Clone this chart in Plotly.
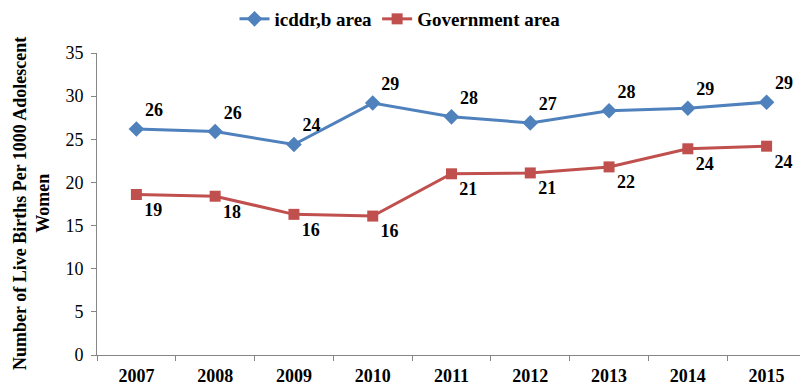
import plotly.graph_objects as go

years = ["2007", "2008", "2009", "2010", "2011", "2012", "2013", "2014", "2015"]
icddrb = [26.2, 25.9, 24.4, 29.2, 27.6, 26.9, 28.3, 28.6, 29.3]
government = [18.6, 18.4, 16.3, 16.1, 21.0, 21.1, 21.8, 23.9, 24.2]
y_ticks = [0, 5, 10, 15, 20, 25, 30, 35]

FONT = "Liberation Serif"
BLUE = "#4F81BD"
RED = "#C0504D"
AXIS = "#868686"
FS = 18

fig = go.Figure()
fig.add_trace(go.Scatter(
    x=years, y=icddrb, name="<b>icddr,b area</b>", mode="lines+markers+text",
    line=dict(color=BLUE, width=3),
    marker=dict(symbol="diamond", size=12, color=BLUE),
    texttemplate="<b>%{y:.0f}</b>", textposition="top right",
    textfont=dict(family=FONT, size=FS, color="black"),
    cliponaxis=False,
))
fig.add_trace(go.Scatter(
    x=years, y=government, name="<b>Government area</b>", mode="lines+markers+text",
    line=dict(color=RED, width=3),
    marker=dict(symbol="square", size=11, color=RED),
    texttemplate="<b>%{y:.0f}</b>", textposition="bottom right",
    textfont=dict(family=FONT, size=FS, color="black"),
    cliponaxis=False,
))

fig.update_layout(
    width=800, height=386,
    margin=dict(l=97, r=0, t=53, b=31),
    paper_bgcolor="white", plot_bgcolor="white",
    font=dict(family=FONT, size=FS, color="black"),
    showlegend=True,
    legend=dict(orientation="h", x=0.5, xanchor="center", y=1.0, yanchor="top",
                yref="container", xref="container",
                font=dict(family=FONT, size=19, color="black"),
                itemwidth=30, traceorder="normal"),
    xaxis=dict(type="category", range=[-0.5, 8.424], showgrid=False, automargin=False,
               showline=True, linecolor=AXIS, linewidth=1,
               ticks="outside", tickson="boundaries", ticklen=5, tickcolor=AXIS,
               ticklabelstandoff=4, tickprefix="<b>", ticksuffix="</b>",
               tickfont=dict(family=FONT, size=FS, color="black")),
    yaxis=dict(range=[0, 35], tickvals=y_ticks, showgrid=False, zeroline=False, automargin=False,
               showline=True, linecolor=AXIS, linewidth=1,
               ticks="outside", ticklen=5, tickcolor=AXIS,
               ticklabelstandoff=4, tickprefix="<b>", ticksuffix="</b>",
               tickfont=dict(family=FONT, size=FS, color="black")),
)

fig.add_annotation(
    text="<b>Number of Live Births Per 1000 Adolescent<br>Women</b>",
    textangle=-90, xref="paper", yref="paper", x=0, y=0.5,
    xanchor="center", yanchor="middle", xshift=-66, yshift=0,
    showarrow=False, font=dict(family=FONT, size=18, color="black"),
)

fig.write_html("out.html")
